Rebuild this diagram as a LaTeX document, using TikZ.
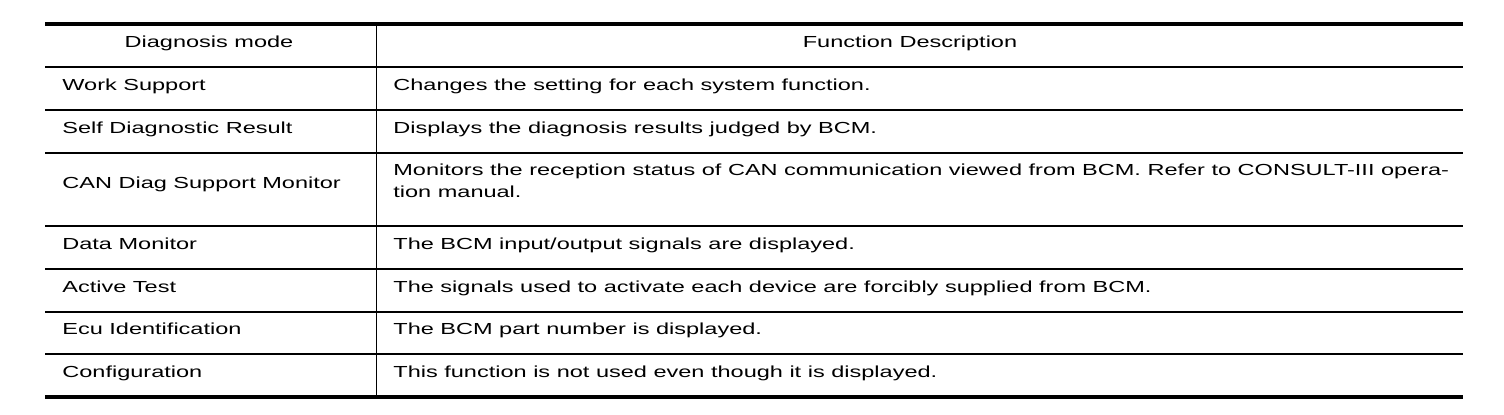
\documentclass[tikz,border=0pt]{standalone}
\usepackage{fontspec}
\setmainfont[FakeStretch=1.47]{Liberation Sans}
\usepackage{tikz}
\tikzset{cellrule/.style={line width=0.6pt}, celltext/.style={anchor=base west, inner sep=0pt}}

\begin{document}
\begin{tikzpicture}[x=0.5pt,y=-0.5pt]%
\useasboundingbox (0,0) rectangle (1504,414);%
\draw[line width=2pt] (45,24) -- (1463,24);%
\draw[line width=1pt] (45,67) -- (1463,67);%
\draw[cellrule] (45,110) -- (1463,110);%
\draw[cellrule] (45,153) -- (1463,153);%
\draw[cellrule] (45,226) -- (1463,226);%
\draw[cellrule] (45,269) -- (1463,269);%
\draw[cellrule] (45,312) -- (1463,312);%
\draw[cellrule] (45,354) -- (1463,354);%
\draw[line width=2pt] (45,397) -- (1463,397);%
\draw[line width=0.5pt] (376,24) -- (376,397);%
\node[anchor=base, inner sep=0pt] (head1) at (209,47) {\fontsize{8pt}{11pt}\selectfont Diagnosis mode};%
\node[anchor=base, inner sep=0pt] (head2) at (910,47) {\fontsize{8pt}{11pt}\selectfont Function Description};%
\node[celltext] (mode1) at (62,90) {\fontsize{8pt}{11pt}\selectfont Work Support};%
\node[celltext] (desc1) at (393,90) {\fontsize{8pt}{11pt}\selectfont Changes the setting for each system function.};%
\node[celltext] (mode2) at (62,133) {\fontsize{8pt}{11pt}\selectfont Self Diagnostic Result};%
\node[celltext] (desc2) at (393,133) {\fontsize{8pt}{11pt}\selectfont Displays the diagnosis results judged by BCM.};%
\node[celltext] (mode3) at (62,188) {\fontsize{8pt}{11pt}\selectfont CAN Diag Support Monitor};%
\node[celltext] (desc3) at (393,175) {\fontsize{8pt}{11pt}\selectfont Monitors the reception status of CAN communication viewed from BCM. Refer to CONSULT-III opera-};%
\node[celltext] (desc3b) at (393,197) {\fontsize{8pt}{11pt}\selectfont tion manual.};%
\node[celltext] (mode4) at (62,249) {\fontsize{8pt}{11pt}\selectfont Data Monitor};%
\node[celltext] (desc4) at (393,249) {\fontsize{8pt}{11pt}\selectfont The BCM input/output signals are displayed.};%
\node[celltext] (mode5) at (62,292) {\fontsize{8pt}{11pt}\selectfont Active Test};%
\node[celltext] (desc5) at (393,292) {\fontsize{8pt}{11pt}\selectfont The signals used to activate each device are forcibly supplied from BCM.};%
\node[celltext] (mode6) at (62,334) {\fontsize{8pt}{11pt}\selectfont Ecu Identification};%
\node[celltext] (desc6) at (393,334) {\fontsize{8pt}{11pt}\selectfont The BCM part number is displayed.};%
\node[celltext] (mode7) at (62,377) {\fontsize{8pt}{11pt}\selectfont Configuration};%
\node[celltext] (desc7) at (393,377) {\fontsize{8pt}{11pt}\selectfont This function is not used even though it is displayed.};%
\end{tikzpicture}
\end{document}
